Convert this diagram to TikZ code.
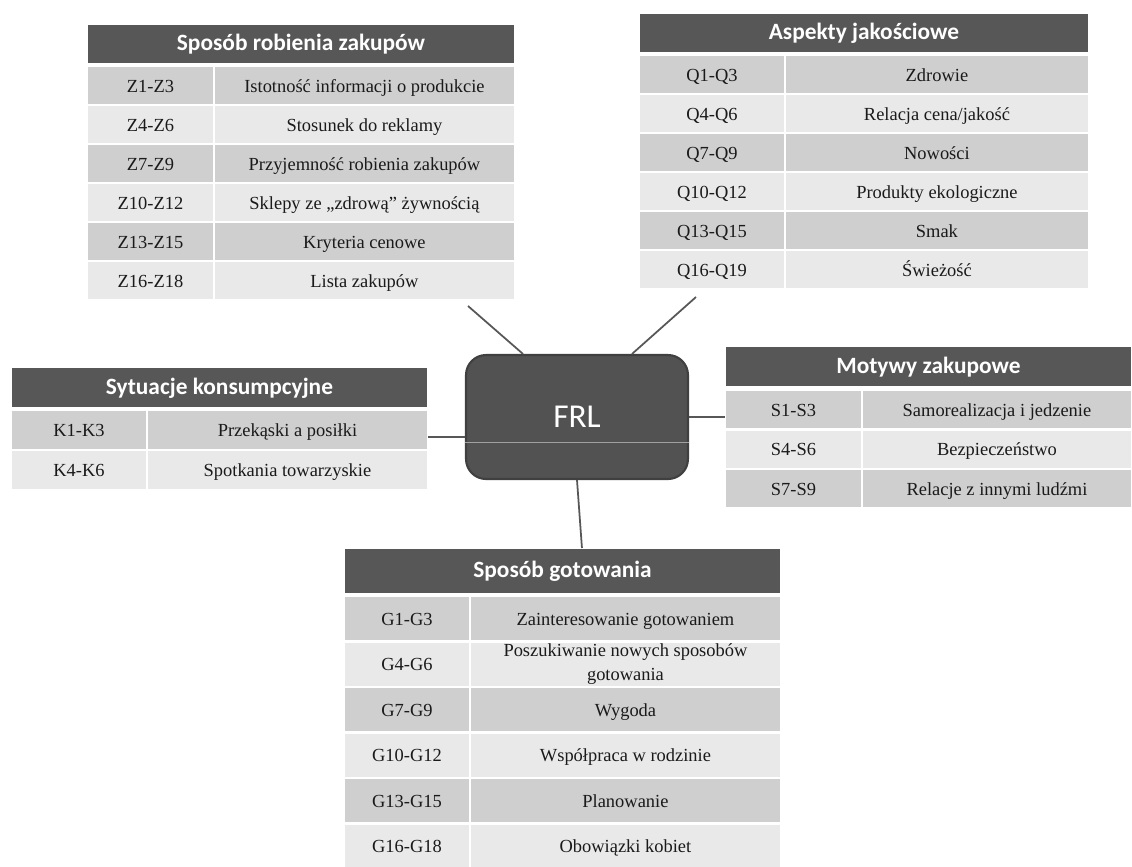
\documentclass[tikz,border=0pt]{standalone}
\usepackage{fontspec}
\setmainfont{Liberation Serif}
\newfontfamily\hdrfont{Carlito}
\usepackage{tikz}
\usetikzlibrary{positioning}

\definecolor{hdrgray}{HTML}{575757}
\definecolor{rowdark}{HTML}{CFCFCF}
\definecolor{rowlight}{HTML}{E9E9E9}
\definecolor{frlgray}{HTML}{525252}
\definecolor{linkgray}{HTML}{575757}
\definecolor{txtgray}{HTML}{1A1A1A}

\tikzset{
  cell/.style={draw=white, line width=1.2pt, outer sep=0pt, inner sep=1pt,
    anchor=north west, align=center, text=txtgray,
    text height=2.1ex, text depth=0.45ex,
    font=\fontsize{10.5}{11.5}\selectfont},
  celldark/.style={cell, fill=rowdark},
  celllight/.style={cell, fill=rowlight},
  hdr/.style={cell, fill=hdrgray, text=white, text height=2.2ex, text depth=0.5ex,
    font=\hdrfont\bfseries\fontsize{13.3}{15}\selectfont},
  link/.style={draw=linkgray, line width=1pt}
}

\begin{document}
\begin{tikzpicture}[x=0.02cm,y=-0.02cm]
\useasboundingbox (0,0) rectangle (1132,866);
% Sposob robienia zakupow
\node[hdr, minimum width=8.56cm, minimum height=0.8cm] (zh) at (87,24) {Sposób robienia zakupów};
\node[celldark, minimum width=2.54cm, minimum height=0.78cm] (z1a) at (87,66) {Z1-Z3};
\node[celldark, minimum width=6.02cm, minimum height=0.78cm, right=0pt of z1a] (z1b) {Istotność informacji o produkcie};
\node[celllight, minimum width=2.54cm, minimum height=0.78cm] (z2a) at (87,105) {Z4-Z6};
\node[celllight, minimum width=6.02cm, minimum height=0.78cm, right=0pt of z2a] (z2b) {Stosunek do reklamy};
\node[celldark, minimum width=2.54cm, minimum height=0.78cm] (z3a) at (87,144) {Z7-Z9};
\node[celldark, minimum width=6.02cm, minimum height=0.78cm, right=0pt of z3a] (z3b) {Przyjemność robienia zakupów};
\node[celllight, minimum width=2.54cm, minimum height=0.78cm] (z4a) at (87,183) {Z10-Z12};
\node[celllight, minimum width=6.02cm, minimum height=0.78cm, right=0pt of z4a] (z4b) {Sklepy ze „zdrową” żywnością};
\node[celldark, minimum width=2.54cm, minimum height=0.78cm] (z5a) at (87,222) {Z13-Z15};
\node[celldark, minimum width=6.02cm, minimum height=0.78cm, right=0pt of z5a] (z5b) {Kryteria cenowe};
\node[celllight, minimum width=2.54cm, minimum height=0.78cm] (z6a) at (87,261) {Z16-Z18};
\node[celllight, minimum width=6.02cm, minimum height=0.78cm, right=0pt of z6a] (z6b) {Lista zakupów};
% Aspekty jakosciowe
\node[hdr, minimum width=9cm, minimum height=0.8cm] (qh) at (639,13) {Aspekty jakościowe};
\node[celldark, minimum width=2.92cm, minimum height=0.78cm] (q1a) at (639,55) {Q1-Q3};
\node[celldark, minimum width=6.08cm, minimum height=0.78cm, right=0pt of q1a] (q1b) {Zdrowie};
\node[celllight, minimum width=2.92cm, minimum height=0.78cm] (q2a) at (639,94) {Q4-Q6};
\node[celllight, minimum width=6.08cm, minimum height=0.78cm, right=0pt of q2a] (q2b) {Relacja cena/jakość};
\node[celldark, minimum width=2.92cm, minimum height=0.78cm] (q3a) at (639,133) {Q7-Q9};
\node[celldark, minimum width=6.08cm, minimum height=0.78cm, right=0pt of q3a] (q3b) {Nowości};
\node[celllight, minimum width=2.92cm, minimum height=0.78cm] (q4a) at (639,172) {Q10-Q12};
\node[celllight, minimum width=6.08cm, minimum height=0.78cm, right=0pt of q4a] (q4b) {Produkty ekologiczne};
\node[celldark, minimum width=2.92cm, minimum height=0.78cm] (q5a) at (639,211) {Q13-Q15};
\node[celldark, minimum width=6.08cm, minimum height=0.78cm, right=0pt of q5a] (q5b) {Smak};
\node[celllight, minimum width=2.92cm, minimum height=0.78cm] (q6a) at (639,250) {Q16-Q19};
\node[celllight, minimum width=6.08cm, minimum height=0.78cm, right=0pt of q6a] (q6b) {Świeżość};
% Sytuacje konsumpcyjne
\node[hdr, minimum width=8.34cm, minimum height=0.82cm] (kh) at (11,367) {Sytuacje konsumpcyjne};
\node[celldark, minimum width=2.72cm, minimum height=0.8cm] (k1a) at (11,410) {K1-K3};
\node[celldark, minimum width=5.62cm, minimum height=0.8cm, right=0pt of k1a] (k1b) {Przekąski a posiłki};
\node[celllight, minimum width=2.72cm, minimum height=0.8cm] (k2a) at (11,450) {K4-K6};
\node[celllight, minimum width=5.62cm, minimum height=0.8cm, right=0pt of k2a] (k2b) {Spotkania towarzyskie};
% Motywy zakupowe
\node[hdr, minimum width=8.14cm, minimum height=0.82cm] (sh) at (725,346) {Motywy zakupowe};
\node[celldark, minimum width=2.74cm, minimum height=0.79cm] (s1a) at (725,390) {S1-S3};
\node[celldark, minimum width=5.4cm, minimum height=0.79cm, right=0pt of s1a] (s1b) {Samorealizacja i jedzenie};
\node[celllight, minimum width=2.74cm, minimum height=0.79cm] (s2a) at (725,429.5) {S4-S6};
\node[celllight, minimum width=5.4cm, minimum height=0.79cm, right=0pt of s2a] (s2b) {Bezpieczeństwo};
\node[celldark, minimum width=2.74cm, minimum height=0.79cm] (s3a) at (725,469) {S7-S9};
\node[celldark, minimum width=5.4cm, minimum height=0.79cm, right=0pt of s3a] (s3b) {Relacje z innymi ludźmi};
% Sposob gotowania
\node[hdr, minimum width=8.74cm, minimum height=0.92cm] (gh) at (344,548) {Sposób gotowania};
\node[celldark, minimum width=2.52cm, minimum height=0.91cm] (g1a) at (344,596) {G1-G3};
\node[celldark, minimum width=6.22cm, minimum height=0.91cm, right=0pt of g1a] (g1b) {Zainteresowanie gotowaniem};
\node[celllight, minimum width=2.52cm, minimum height=0.91cm] (g2a) at (344,641.5) {G4-G6};
\node[celllight, minimum width=6.22cm, minimum height=0.91cm, text height={}, text depth={},
  font=\fontsize{10.5}{13.5}\selectfont, right=0pt of g2a] (g2b) {Poszukiwanie nowych sposobów\\gotowania};
\node[celldark, minimum width=2.52cm, minimum height=0.91cm] (g3a) at (344,687) {G7-G9};
\node[celldark, minimum width=6.22cm, minimum height=0.91cm, right=0pt of g3a] (g3b) {Wygoda};
\node[celllight, minimum width=2.52cm, minimum height=0.91cm] (g4a) at (344,732.5) {G10-G12};
\node[celllight, minimum width=6.22cm, minimum height=0.91cm, right=0pt of g4a] (g4b) {Współpraca w rodzinie};
\node[celldark, minimum width=2.52cm, minimum height=0.91cm] (g5a) at (344,778) {G13-G15};
\node[celldark, minimum width=6.22cm, minimum height=0.91cm, right=0pt of g5a] (g5b) {Planowanie};
\node[celllight, minimum width=2.52cm, minimum height=0.91cm] (g6a) at (344,823.5) {G16-G18};
\node[celllight, minimum width=6.22cm, minimum height=0.91cm, right=0pt of g6a] (g6b) {Obowiązki kobiet};
% centre
\node[draw=black!75, fill=frlgray, line width=1.2pt, rounded corners=0.4cm,
  minimum width=4.44cm, minimum height=2.48cm, text=white,
  font=\hdrfont\fontsize{19}{21}\selectfont] (frl) at (577,417) {FRL};
\draw[white!45!frlgray, line width=0.4pt] ([yshift=-0.5cm]frl.west) -- ([yshift=-0.5cm]frl.east);
%
\coordinate (e1) at (468,306);
\coordinate (e2) at (696,297);
\coordinate (e3) at (428,437);
\draw[link] ([xshift=-1.08cm]frl.north) -- (e1);
\draw[link] ([xshift=1.1cm]frl.north) -- (e2);
\draw[link] (e3) -- (e3 -| frl.west);
\draw[link] (frl.east) -- (frl.east -| s1a.west);
\draw[link] (frl.south) -- ([xshift=0.39cm]gh.north);
\end{tikzpicture}
\end{document}
